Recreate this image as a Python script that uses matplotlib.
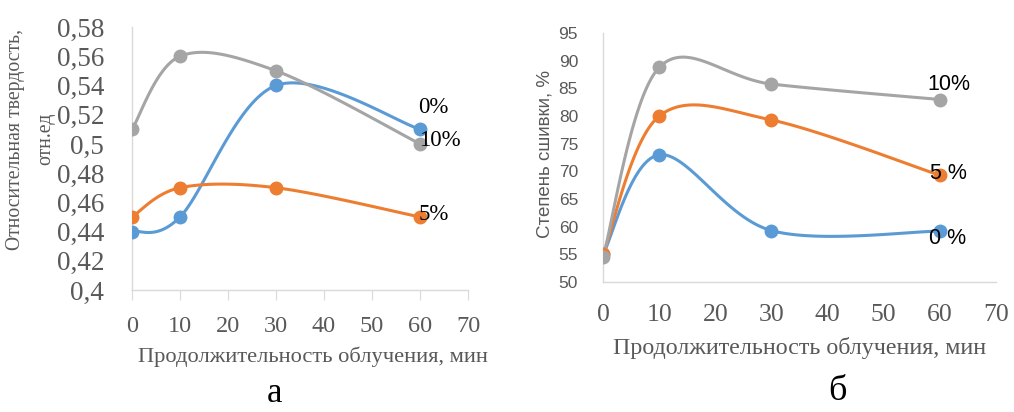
import numpy as np
import matplotlib
matplotlib.use('Agg')
import matplotlib.pyplot as plt

# data
minutes = [0, 10, 30, 60]
hard_0 = [0.44, 0.45, 0.54, 0.51]
hard_5 = [0.45, 0.47, 0.47, 0.45]
hard_10 = [0.51, 0.56, 0.55, 0.50]
cross_0 = [55.0, 73.0, 59.3, 59.2]
cross_5 = [55.0, 80.0, 79.3, 69.3]
cross_10 = [54.5, 88.8, 85.8, 83.0]
hard_ticks = ['0,4', '0,42', '0,44', '0,46', '0,48', '0,5', '0,52', '0,54', '0,56', '0,58']

blue, orange, grey = '#5B9BD5', '#ED7D31', '#A5A5A5'
txt_grey = '#595959'
serif = 'Liberation Serif'
sans = 'Liberation Sans'


def smooth(x, y, n=40):
    # excel-like smoothed line: bezier segments with catmull-rom handles
    x = np.asarray(x, float)
    y = np.asarray(y, float)
    p = np.column_stack([x, y])
    p = np.vstack([p[0], p, p[-1]])
    out = []
    t = np.linspace(0, 1, n)[:, None]
    for i in range(1, len(p) - 2):
        p0, p1, p2, p3 = p[i - 1], p[i], p[i + 1], p[i + 2]
        c1 = p1 + (p2 - p0) / 6
        c2 = p2 - (p3 - p1) / 6
        seg = ((1 - t) ** 3) * p1 + 3 * ((1 - t) ** 2) * t * c1 + 3 * (1 - t) * t ** 2 * c2 + t ** 3 * p2
        out.append(seg)
    out = np.vstack(out)
    return out[:, 0], out[:, 1]


def style(ax):
    for s in ['top', 'right']:
        ax.spines[s].set_visible(False)
    for s in ['left', 'bottom']:
        ax.spines[s].set_color('#D9D9D9')
        ax.spines[s].set_linewidth(1.0)


fig = plt.figure(figsize=(10.14, 4.12), dpi=100)

# ---- panel a
ax1 = fig.add_axes([0.1302, 0.2961, 0.3314, 0.6383])
for ys, c in [(hard_0, blue), (hard_5, orange), (hard_10, grey)]:
    sx, sy = smooth(minutes, ys)
    ax1.plot(sx, sy, color=c, lw=2.2, solid_capstyle='round', zorder=2)
    ax1.plot(minutes, ys, 'o', color=c, ms=9, zorder=3)
ax1.set_xlim(0, 70)
ax1.set_ylim(0.4, 0.58)
ax1.set_xticks(range(0, 71, 10))
ax1.set_yticks(np.arange(0.4, 0.5801, 0.02))
ax1.set_yticklabels(hard_ticks)
style(ax1)
ax1.tick_params(axis='x', length=7, color='#D9D9D9', pad=12, labelsize=17.5, labelcolor=txt_grey)
ax1.tick_params(axis='y', length=0, pad=20, labelsize=19.5, labelcolor=txt_grey)
for lab in ax1.get_xticklabels() + ax1.get_yticklabels():
    lab.set_family(serif)
ax1.text(59.7, 0.525, '0%', family=serif, fontsize=16.5, ha='left', va='center', zorder=4)
ax1.text(59.7, 0.502, '10%', family=serif, fontsize=16.5, ha='left', va='center', zorder=4)
ax1.text(59.7, 0.452, '5%', family=serif, fontsize=16.5, ha='left', va='center', zorder=4)
fig.text(0.0155, 0.662, 'Относительная твердость,', rotation=90, family=serif,
         fontsize=14.2, color=txt_grey, ha='center', va='center')
fig.text(0.045, 0.662, 'отн.ед', rotation=90, family=serif,
         fontsize=14.2, color=txt_grey, ha='center', va='center')
fig.text(0.309, 0.133, 'Продолжительность облучения, мин', family=serif,
         fontsize=16.2, color=txt_grey, ha='center', va='center')
fig.text(0.271, 0.045, 'а', family=serif, fontsize=25, ha='center', va='center')

# ---- panel б
ax2 = fig.add_axes([0.5947, 0.3155, 0.3876, 0.604])
for ys, c in [(cross_0, blue), (cross_5, orange), (cross_10, grey)]:
    sx, sy = smooth(minutes, ys)
    ax2.plot(sx, sy, color=c, lw=2.2, solid_capstyle='round', zorder=2)
    ax2.plot(minutes, ys, 'o', color=c, ms=9, zorder=3)
ax2.set_xlim(0, 70)
ax2.set_ylim(50, 95)
ax2.set_xticks(range(0, 71, 10))
ax2.set_yticks(range(50, 96, 5))
style(ax2)
ax2.tick_params(axis='x', length=0, pad=16, labelsize=18.5, labelcolor=txt_grey)
ax2.tick_params(axis='y', length=0, pad=18, labelsize=12.5, labelcolor=txt_grey)
for lab in ax2.get_xticklabels():
    lab.set_family(serif)
for lab in ax2.get_yticklabels():
    lab.set_family(sans)
ax2.text(57.8, 85.8, '10%', family=sans, fontsize=15.5, ha='left', va='center', zorder=4)
ax2.text(58.2, 69.6, '5 %', family=sans, fontsize=15.5, ha='left', va='center', zorder=4)
ax2.text(58.0, 57.9, '0 %', family=sans, fontsize=15.5, ha='left', va='center', zorder=4)
fig.text(0.5375, 0.625, 'Степень сшивки, %', rotation=90, family=sans,
         fontsize=13.5, color=txt_grey, ha='center', va='center')
fig.text(0.789, 0.155, 'Продолжительность облучения, мин', family=serif,
         fontsize=17.3, color=txt_grey, ha='center', va='center')
fig.text(0.826, 0.05, 'б', family=serif, fontsize=26, ha='center', va='center')

fig.savefig('out.png', dpi=100)
